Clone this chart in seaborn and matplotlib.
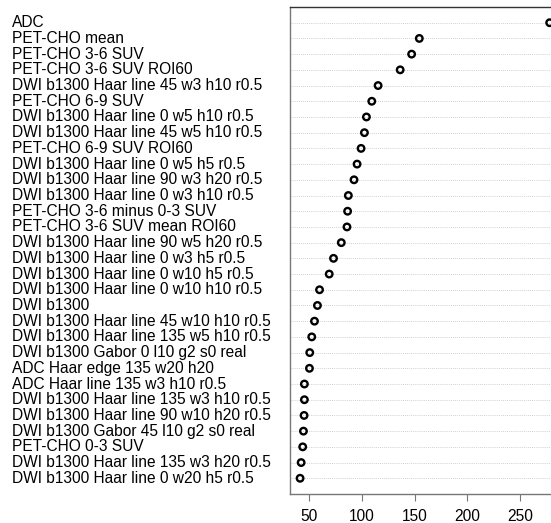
import seaborn as sns
import matplotlib.pyplot as plt
import matplotlib.transforms as mtransforms
import pandas as pd

# Feature names, top to bottom, and their scores
labels = [
    "ADC",
    "PET-CHO mean",
    "PET-CHO 3-6 SUV",
    "PET-CHO 3-6 SUV ROI60",
    "DWI b1300 Haar line 45 w3 h10 r0.5",
    "PET-CHO 6-9 SUV",
    "DWI b1300 Haar line 0 w5 h10 r0.5",
    "DWI b1300 Haar line 45 w5 h10 r0.5",
    "PET-CHO 6-9 SUV ROI60",
    "DWI b1300 Haar line 0 w5 h5 r0.5",
    "DWI b1300 Haar line 90 w3 h20 r0.5",
    "DWI b1300 Haar line 0 w3 h10 r0.5",
    "PET-CHO 3-6 minus 0-3 SUV",
    "PET-CHO 3-6 SUV mean ROI60",
    "DWI b1300 Haar line 90 w5 h20 r0.5",
    "DWI b1300 Haar line 0 w3 h5 r0.5",
    "DWI b1300 Haar line 0 w10 h5 r0.5",
    "DWI b1300 Haar line 0 w10 h10 r0.5",
    "DWI b1300",
    "DWI b1300 Haar line 45 w10 h10 r0.5",
    "DWI b1300 Haar line 135 w5 h10 r0.5",
    "DWI b1300 Gabor 0 l10 g2 s0 real",
    "ADC Haar edge 135 w20 h20",
    "ADC Haar line 135 w3 h10 r0.5",
    "DWI b1300 Haar line 135 w3 h10 r0.5",
    "DWI b1300 Haar line 90 w10 h20 r0.5",
    "DWI b1300 Gabor 45 l10 g2 s0 real",
    "PET-CHO 0-3 SUV",
    "DWI b1300 Haar line 135 w3 h20 r0.5",
    "DWI b1300 Haar line 0 w20 h5 r0.5",
]
scores = [
    278.5, 154.5, 147.2, 136.3, 115.3, 109.3, 104.2, 102.3, 99.1, 95.3,
    92.4, 87.0, 86.3, 85.7, 80.3, 72.9, 68.8, 59.6, 57.6, 54.8,
    52.2, 50.3, 50.0, 45.2, 45.2, 44.9, 44.3, 43.6, 42.1, 41.1,
]
x_ticks = [50, 100, 150, 200, 250]

n = len(labels)
df = pd.DataFrame({"label": labels, "score": scores, "pos": list(range(n, 0, -1))})

sns.set_style("white")
plt.rcParams["font.family"] = ["Liberation Sans", "DejaVu Sans"]

fig = plt.figure(figsize=(5.51, 5.23), dpi=100)
# right edge of the box falls outside the image, like the original crop
ax = fig.add_axes([0.5265, 0.0555, 0.4892, 0.9311])

# dotted guide lines, one per row
for p in df["pos"]:
    ax.axhline(p, color="#c0c0c0", linestyle=(0, (1, 1.5)), linewidth=0.6, zorder=1)

sns.scatterplot(
    data=df, x="score", y="pos", ax=ax,
    marker="o", s=22, facecolor="none", edgecolor="black", linewidth=1.7,
    zorder=3, legend=False,
)

# R dotchart style limits
lo, hi = min(scores), max(scores)
pad = 0.04 * (hi - lo)
ax.set_xlim(lo - pad, hi + pad)
ax.set_ylim(0, n + 1)

ax.set_yticks([])
ax.set_xticks(x_ticks)
ax.set_xticklabels([str(t) for t in x_ticks], fontsize=11.2)
ax.tick_params(axis="x", direction="out", length=5, width=0.8, color="#777777",
               pad=6, labelcolor="black", bottom=True)
ax.set_xlabel("")
ax.set_ylabel("")

# row labels, left aligned near the figure edge
trans = mtransforms.blended_transform_factory(fig.transFigure, ax.transData)
for lab, p in zip(df["label"], df["pos"]):
    ax.text(0.021, p, lab, transform=trans, ha="left", va="center",
            fontsize=11.2, color="black")

for side, sp in ax.spines.items():
    sp.set_visible(True)
    sp.set_color("#777777")
    sp.set_linewidth(1.0)
ax.spines["top"].set_color("#333333")

plt.savefig("out.png", dpi=100)
